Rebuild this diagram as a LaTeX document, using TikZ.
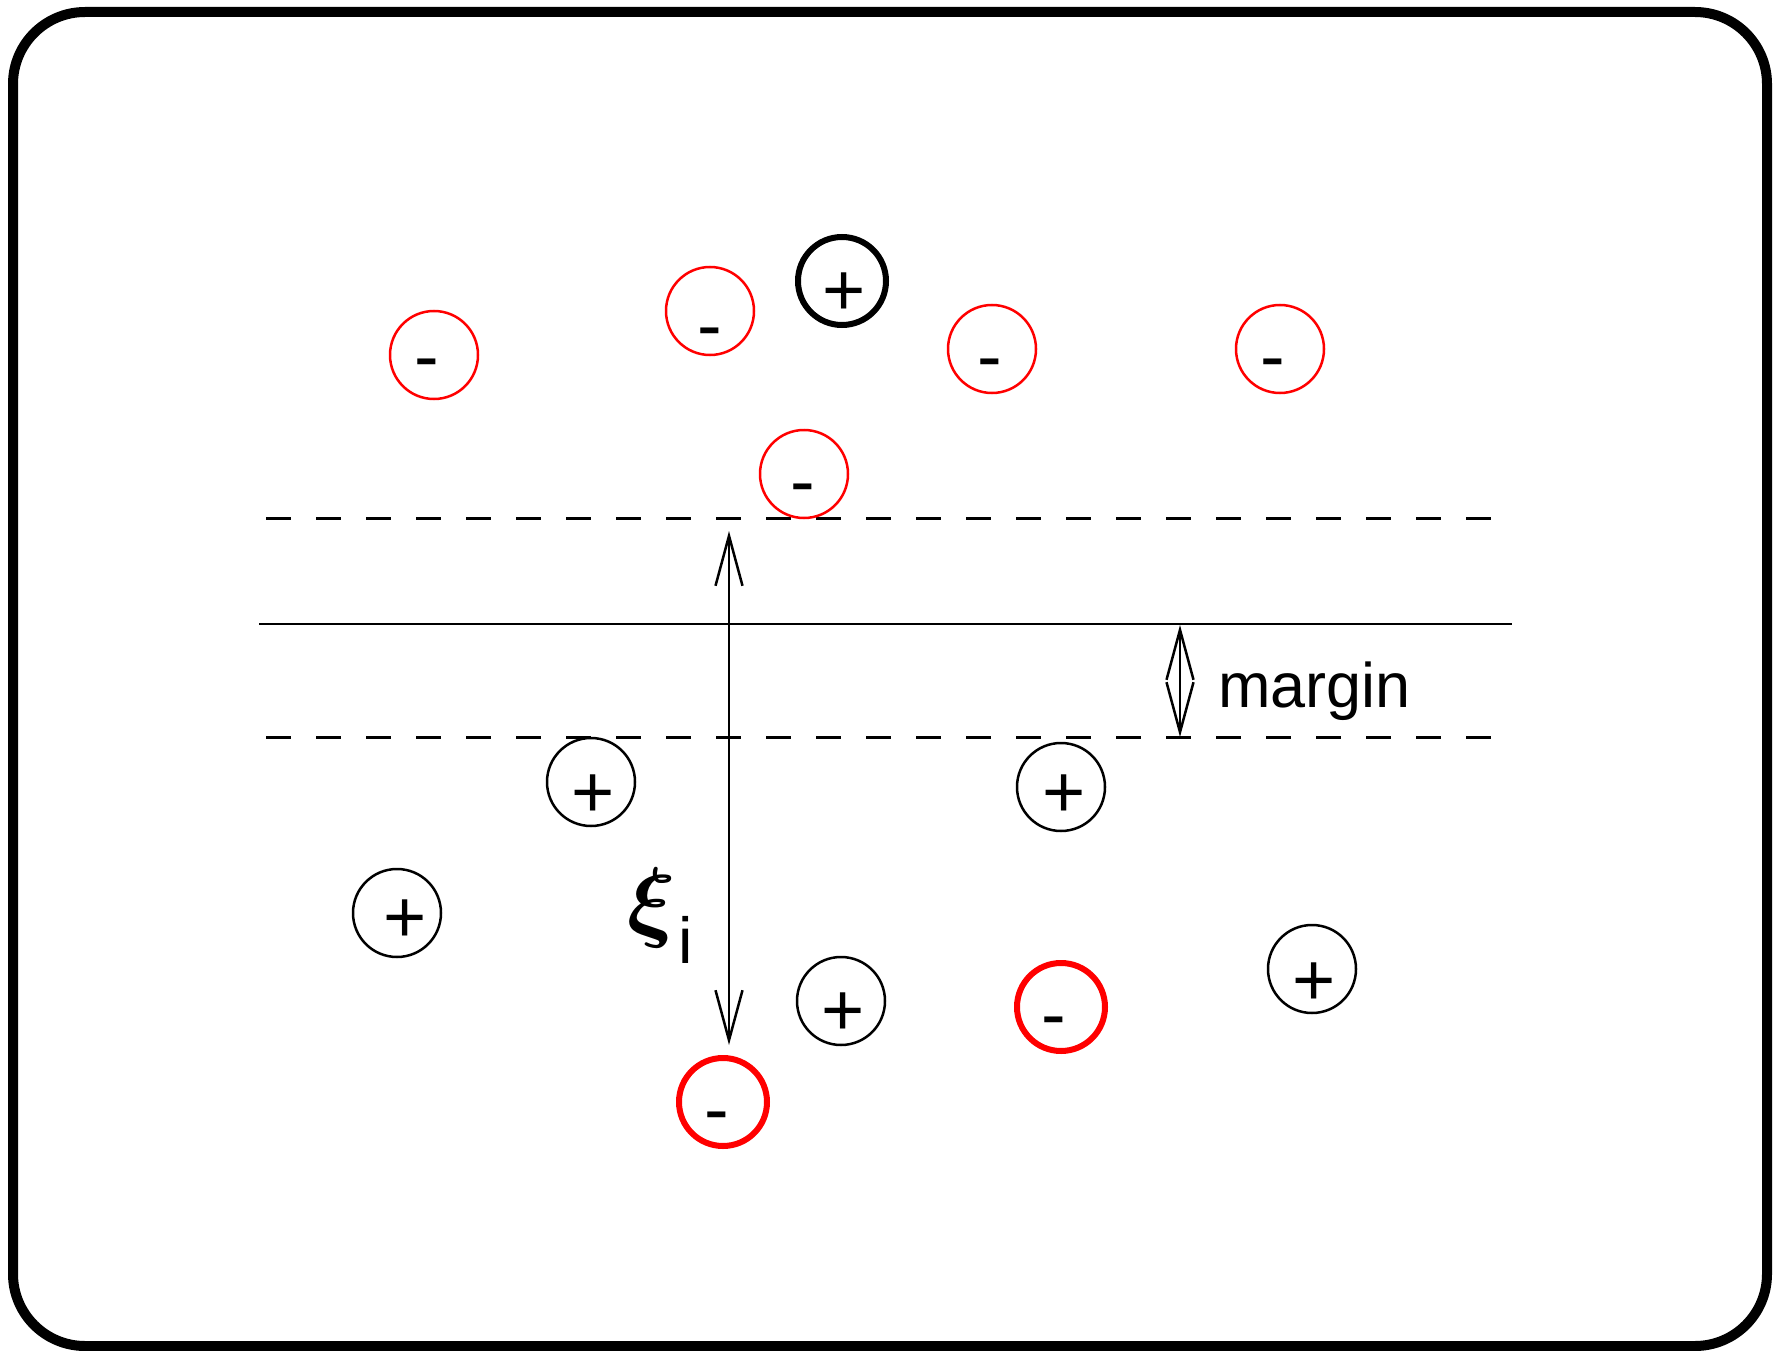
\documentclass[tikz,border=0pt]{standalone}
\usepackage{fontspec}
\setmainfont{Liberation Sans}
\usetikzlibrary{arrows.meta}
\begin{document}
\begin{tikzpicture}[x=1pt,y=-1pt,
  chg/.style={circle,minimum size=88pt,inner sep=0pt,line width=2.5pt},
  negc/.style={chg,draw=red},
  negcb/.style={chg,draw=red,line width=6pt},
  posc/.style={chg,draw=black},
  poscb/.style={chg,draw=black,line width=6pt},
  sgn/.style={inner sep=0pt,anchor=base,font=\fontsize{74}{80}\selectfont},
  dsh/.style={line width=3pt,dash pattern=on 25pt off 25pt},
  barb/.tip={Straight Barb[length=50pt,width=27pt]},
  arr/.style={line width=2.5pt,barb-barb}
]
\useasboundingbox (0,0) rectangle (1773,1351);
% frame
\draw[line width=10pt,rounded corners=72pt] (13,12) rectangle (1767,1346);

% separating lines
\coordinate (ul) at (266,518); \coordinate (ur) at (1495,518);
\coordinate (sl) at (259,624); \coordinate (sr) at (1512,624);
\coordinate (ll) at (266,737); \coordinate (lr) at (1495,737);
\draw[dsh] (ul) -- (ur);
\draw[line width=2.8pt] (sl) -- (sr);
\draw[dsh] (ll) -- (lr);

% negative (red) points
\node[negc] (n1) at (434,355) {};  \node[sgn] (n1s) at (427,381) {-};
\node[negc] (n2) at (710,311) {};  \node[sgn] (n2s) at (710,350) {-};
\node[negc] (n3) at (992,349) {};  \node[sgn] (n3s) at (990,381) {-};
\node[negc] (n4) at (1280,349) {}; \node[sgn] (n4s) at (1273,381) {-};
\node[negc] (n5) at (804,474) {};  \node[sgn] (n5s) at (803,506) {-};
\node[negcb] (n6) at (1061,1007) {}; \node[sgn] (n6s) at (1054,1039) {-};
\node[negcb] (n7) at (723,1102) {};  \node[sgn] (n7s) at (717,1134) {-};

% positive (black) points
\node[poscb] (p1) at (842,281) {};  \node[sgn] (p1s) at (844,316) {+};
\node[posc] (p2) at (591,782) {};   \node[sgn] (p2s) at (593,817) {+};
\node[posc] (p3) at (1061,787) {};  \node[sgn] (p3s) at (1064,817) {+};
\node[posc] (p4) at (397,913) {};   \node[sgn] (p4s) at (405,942) {+};
\node[posc] (p5) at (841,1001) {};  \node[sgn] (p5s) at (843,1035) {+};
\node[posc] (p6) at (1312,969) {};  \node[sgn] (p6s) at (1314,1005) {+};

% xi arrow
\coordinate (xitop) at (729,531);
\coordinate (xibot) at (729,1045);
\draw[arr] (xitop) -- (xibot);
\node[inner sep=0pt] (xi) at (652,908) {\scalebox{9}{\boldmath$\xi$}};
\node[inner sep=0pt,anchor=base,font=\fontsize{65}{70}\selectfont] (xii) at (686,963) {i};

% margin arrow
\coordinate (mtop) at (1180,625);
\coordinate (mbot) at (1180,737);
\draw[arr] (mtop) -- (mbot);
\node[inner sep=0pt,anchor=base west,font=\fontsize{63}{70}\selectfont] (mlab) at (1218,707) {margin};
\end{tikzpicture}
\end{document}
